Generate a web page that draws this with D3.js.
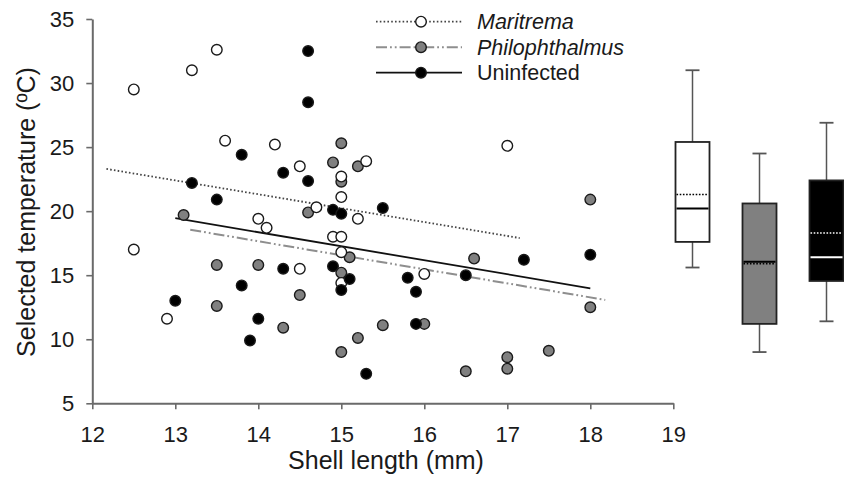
<html lang="en">
<head>
<meta charset="utf-8">
<script src="https://cdn.jsdelivr.net/npm/d3@7"></script>
<style>
body{margin:0;background:#fff;}
svg text{font-family:"Liberation Sans",Arial,sans-serif;fill:#1a1a1a;}
</style>
</head>
<body>
<div id="chart"></div>
<script>
// shell length (mm) / selected temperature (C)
const maritremaX=[12.5,13.2,13.5,13.6,14.2,14.5,15.3,15,15,14.7,15.2,14,14.1,14.9,15,12.5,15,14.5,15,12.9,16,17]
const maritremaY=[29.5,31,32.6,25.5,25.2,23.5,23.9,22.7,21.1,20.3,19.4,19.4,18.7,18,18,17,16.8,15.5,14.4,11.6,15.1,25.1]
const philoX=[13.1,15,14.9,15.2,15,14.6,15.1,13.5,14,15,14.5,13.5,14.3,15.2,15,15.5,16,16.6,18,17.5,17,17,16.5,18]
const philoY=[19.7,25.3,23.8,23.5,22.3,19.9,16.4,15.8,15.8,15.2,13.45,12.6,10.9,10.1,9,11.1,11.2,16.3,12.5,9.1,8.6,7.7,7.5,20.9]
const uninfX=[14.6,14.6,13.8,14.3,14.6,13.2,13.5,14.9,15,15.5,14.3,14.9,15.1,15,13.8,13,14,13.9,15.3,15.8,15.9,15.9,16.5,17.2,18]
const uninfY=[32.5,28.5,24.4,23,22.35,22.2,20.9,20.1,19.8,20.25,15.5,15.7,14.7,13.85,14.2,13,11.6,9.9,7.3,14.8,13.7,11.2,15,16.2,16.6]

// fitted lines: [x start, y start, x end, y end]
const fitMaritrema=[12.17,23.3,17.15,17.9]
const fitPhilo=[13.18,18.55,18.18,13.07]
const fitUninf=[13.0,19.45,18.0,13.98]

// box plots: whisker low, Q1, median, Q3, whisker high, mean
const boxGroups=["Maritrema","Philophthalmus","Uninfected"]
const boxLow=[15.6,9.0,11.4]
const boxQ1=[17.6,11.2,14.55]
const boxMedian=[20.2,16.05,16.4]
const boxQ3=[25.4,20.6,22.4]
const boxHigh=[31.0,24.5,26.9]
const boxMean=[21.3,15.9,18.3]

const xTicks=[12,13,14,15,16,17,18,19]
const yTicks=[5,10,15,20,25,30,35]

const W=844,H=481
const svg=d3.select("#chart").append("svg").attr("width",W).attr("height",H)

const x=d3.scaleLinear().domain([12,19]).range([92.3,673.3])
const y=d3.scaleLinear().domain([5,35]).range([403.3,19])

const series=[
 {name:"Philophthalmus",xs:philoX,ys:philoY,fill:"#808080",fit:fitPhilo,stroke:"#8e8e8e",dash:"11,3,1.8,3,1.8,3",width:2,italic:true},
 {name:"Maritrema",xs:maritremaX,ys:maritremaY,fill:"#fff",fit:fitMaritrema,stroke:"#444",dash:"1.6,2.2",width:1.8,italic:true},
 {name:"Uninfected",xs:uninfX,ys:uninfY,fill:"#000",fit:fitUninf,stroke:"#111",dash:null,width:1.8,italic:false}
]

// axes
const ax=svg.append("g").attr("transform","translate(0,"+y(5)+")")
 .call(d3.axisBottom(x).tickValues(xTicks).tickFormat(d3.format("d")).tickSize(6).tickSizeOuter(0).tickPadding(17.5))
const ay=svg.append("g").attr("transform","translate("+x(12)+",0)")
 .call(d3.axisLeft(y).tickValues(yTicks).tickFormat(d3.format("d")).tickSize(6).tickSizeOuter(0).tickPadding(12))
;[ax,ay].forEach(a=>{
 a.select(".domain").attr("stroke","#6a6a6a").attr("stroke-width",2)
 a.selectAll(".tick line").attr("stroke","#6a6a6a").attr("stroke-width",1.6)
 a.selectAll(".tick text").style("font-size","22px").style("fill","#1a1a1a").attr("font-family",null)
})

svg.append("text").attr("x",386).attr("y",469).attr("text-anchor","middle")
 .style("font-size","25px").text("Shell length (mm)")
svg.append("text").attr("transform","translate(35,212) rotate(-90)").attr("text-anchor","middle")
 .style("font-size","25px").text("Selected temperature (ºC)")

// regression lines
const line=d3.line().x(d=>x(d[0])).y(d=>y(d[1]))
series.forEach(s=>{
 svg.append("path").attr("d",line([[s.fit[0],s.fit[1]],[s.fit[2],s.fit[3]]]))
  .attr("fill","none").attr("stroke",s.stroke).attr("stroke-width",s.width)
  .attr("stroke-dasharray",s.dash)
})

// points: grey, open, black
series.forEach(s=>{
 svg.append("g").selectAll("circle").data(d3.range(s.xs.length)).join("circle")
  .attr("cx",i=>x(s.xs[i])).attr("cy",i=>y(s.ys[i])).attr("r",5.3)
  .attr("fill",s.fill).attr("stroke","#1a1a1a").attr("stroke-width",1.4)
})

// legend
const legendOrder=["Maritrema","Philophthalmus","Uninfected"]
const legY=d3.scalePoint().domain(legendOrder).range([21.7,72.7])
legendOrder.forEach(n=>{
 const s=series.find(d=>d.name==n)
 const g=svg.append("g").attr("transform","translate(0,"+legY(n)+")")
 g.append("line").attr("x1",376).attr("x2",462).attr("stroke",s.stroke).attr("stroke-width",s.width)
  .attr("stroke-dasharray",s.dash)
 g.append("circle").attr("cx",421).attr("r",5.3).attr("fill",s.fill).attr("stroke","#1a1a1a").attr("stroke-width",1.4)
 g.append("text").attr("x",477).attr("dy","0.36em").style("font-size","21.5px")
  .style("font-style",s.italic?"italic":"normal").text(n)
})

// box plots
const bx=d3.scalePoint().domain(boxGroups).range([692.5,826.5])
const bw=34
const boxFill=["#fff","#808080","#000"]
const innerCol=["#000","#000","#fff"]
boxGroups.forEach((gname,i)=>{
 const cx=bx(gname)
 const g=svg.append("g")
 g.append("line").attr("x1",cx).attr("x2",cx).attr("y1",y(boxHigh[i])).attr("y2",y(boxLow[i]))
  .attr("stroke","#555").attr("stroke-width",1.5)
 ;[boxHigh[i],boxLow[i]].forEach(v=>{
  g.append("line").attr("x1",cx-7).attr("x2",cx+7).attr("y1",y(v)).attr("y2",y(v))
   .attr("stroke","#555").attr("stroke-width",1.8)
 })
 g.append("rect").attr("x",cx-bw/2).attr("width",bw).attr("y",y(boxQ3[i])).attr("height",y(boxQ1[i])-y(boxQ3[i]))
  .attr("fill",boxFill[i]).attr("stroke","#222").attr("stroke-width",1.8)
 g.append("line").attr("x1",cx-bw/2+1).attr("x2",cx+bw/2-1).attr("y1",y(boxMedian[i])).attr("y2",y(boxMedian[i]))
  .attr("stroke",innerCol[i]).attr("stroke-width",2)
 g.append("line").attr("x1",cx-bw/2+1).attr("x2",cx+bw/2-1).attr("y1",y(boxMean[i])).attr("y2",y(boxMean[i]))
  .attr("stroke",innerCol[i]).attr("stroke-width",1.6).attr("stroke-dasharray","1.6,1.6")
})
</script>
</body>
</html>
